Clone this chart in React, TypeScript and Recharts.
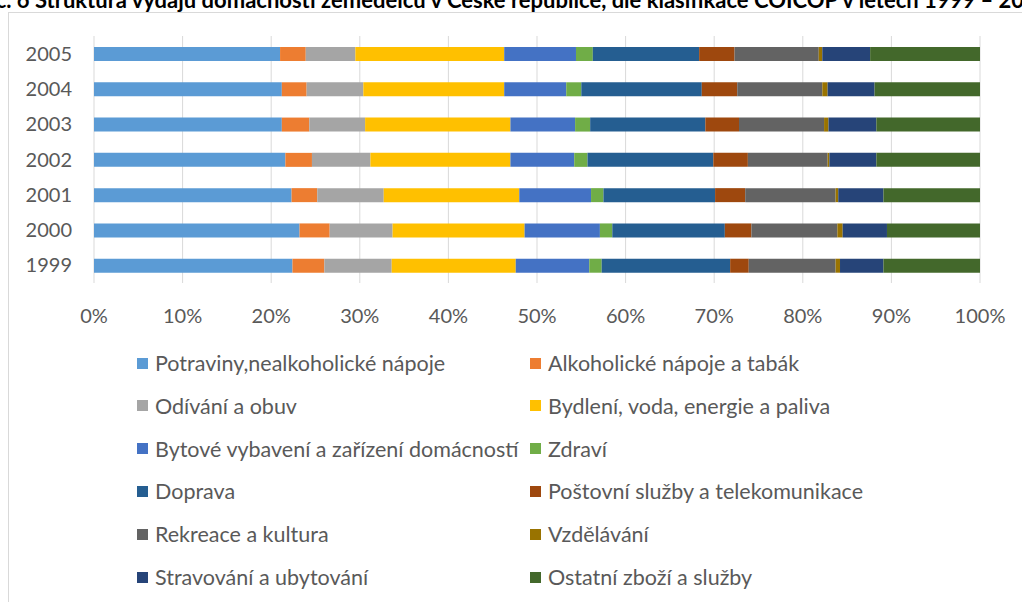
import React from 'react';
import { BarChart, Bar, XAxis, YAxis, CartesianGrid } from 'recharts';

const YEARS = ['2005', '2004', '2003', '2002', '2001', '2000', '1999'];

const CATEGORIES = [
  'Potraviny,nealkoholické nápoje',
  'Alkoholické nápoje a tabák',
  'Odívání a obuv',
  'Bydlení, voda, energie a paliva',
  'Bytové vybavení a zařízení domácností',
  'Zdraví',
  'Doprava',
  'Poštovní služby a telekomunikace',
  'Rekreace a kultura',
  'Vzdělávání',
  'Stravování a ubytování',
  'Ostatní zboží a služby',
];

// shares in % per year, same order as CATEGORIES
const Y2005 = [21.0, 2.9, 5.6, 16.8, 8.1, 1.9, 12.0, 4.0, 9.5, 0.4, 5.4, 12.4];
const Y2004 = [21.2, 2.8, 6.4, 15.9, 7.0, 1.7, 13.6, 4.0, 9.6, 0.6, 5.3, 11.9];
const Y2003 = [21.2, 3.1, 6.3, 16.4, 7.3, 1.7, 13.0, 3.8, 9.6, 0.5, 5.4, 11.7];
const Y2002 = [21.6, 3.0, 6.6, 15.8, 7.2, 1.5, 14.2, 3.9, 9.0, 0.2, 5.3, 11.7];
const Y2001 = [22.3, 2.9, 7.5, 15.3, 8.1, 1.4, 12.6, 3.4, 10.2, 0.3, 5.1, 10.9];
const Y2000 = [23.2, 3.4, 7.1, 14.9, 8.5, 1.4, 12.7, 3.0, 9.7, 0.6, 5.0, 10.5];
const Y1999 = [22.4, 3.6, 7.6, 14.0, 8.3, 1.4, 14.5, 2.1, 9.8, 0.5, 4.9, 10.9];

const X_TICKS = [0, 0.1, 0.2, 0.3, 0.4, 0.5, 0.6, 0.7, 0.8, 0.9, 1];

const COLORS = [
  '#5B9BD5', '#ED7D31', '#A5A5A5', '#FFC000', '#4472C4', '#70AD47',
  '#255E91', '#9E480E', '#636363', '#997300', '#264478', '#43682B',
];

const ROWS = [Y2005, Y2004, Y2003, Y2002, Y2001, Y2000, Y1999];

const data = YEARS.map((year, i) => {
  const row: Record<string, number | string> = { year };
  CATEGORIES.forEach((c, j) => {
    row['c' + j] = ROWS[i][j];
  });
  return row;
});

const FONT = 'Lato, "Open Sans", sans-serif';
const TEXT = '#595959';

// two-column legend under the plot, like the Excel original
const ChartLegend = () => (
  <div style={{ position: 'absolute', left: 0, top: 351, width: 1022, height: 260 }}>
    {CATEGORIES.map((c, i) => {
      const col = i % 2;
      const row = Math.floor(i / 2);
      return (
        <div
          key={c}
          style={{
            position: 'absolute',
            left: col === 0 ? 137 : 530,
            top: row * 42.8,
            display: 'flex',
            alignItems: 'center',
            fontFamily: FONT,
            fontSize: 21.5,
            color: TEXT,
            whiteSpace: 'nowrap',
            lineHeight: '24px',
          }}
        >
          <span style={{ width: 11, height: 11, background: COLORS[i], display: 'inline-block', marginRight: 7 }} />
          {c}
        </div>
      );
    })}
  </div>
);

export default function App() {
  return (
    <div style={{ position: 'fixed', left: 0, top: 0, width: 1022, height: 602, overflow: 'hidden', background: '#fff' }}>
      <div
        style={{
          position: 'absolute',
          left: -52,
          top: -14,
          whiteSpace: 'nowrap',
          fontFamily: FONT,
          fontWeight: 'bold',
          fontSize: 22,
          color: '#000',
        }}
      >
        Graf č. 6 Struktura výdajů domácností zemědělců v České republice, dle klasifikace COICOP v letech 1999 – 2005
      </div>
      <div
        style={{
          position: 'absolute',
          left: 8,
          top: 12,
          width: 1100,
          height: 700,
          border: '1px solid #d9d9d9',
          boxSizing: 'border-box',
        }}
      />
      <div style={{ position: 'absolute', left: 0, top: 0 }}>
        <BarChart
          width={1022}
          height={602}
          data={data}
          layout="vertical"
          stackOffset="expand"
          barSize={14}
          margin={{ top: 36, right: 42, left: 10, bottom: 289 }}
        >
          <CartesianGrid horizontal={false} stroke="#d9d9d9" />
          <XAxis
            type="number"
            domain={[0, 1]}
            ticks={X_TICKS}
            tickFormatter={(v: number) => `${Math.round(v * 100)}%`}
            axisLine={false}
            tickLine={false}
            tickMargin={20}
            height={30}
            tick={{ fontSize: 20, fill: TEXT, fontFamily: FONT }}
            interval={0}
          />
          <YAxis
            type="category"
            dataKey="year"
            width={84}
            axisLine={false}
            tickLine={false}
            tickMargin={16}
            tick={{ fontSize: 20, fill: TEXT, fontFamily: FONT }}
          />
          {CATEGORIES.map((c, i) => (
            <Bar key={c} dataKey={'c' + i} name={c} stackId="a" fill={COLORS[i]} isAnimationActive={false} />
          ))}
        </BarChart>
      </div>
      <ChartLegend />
    </div>
  );
}
